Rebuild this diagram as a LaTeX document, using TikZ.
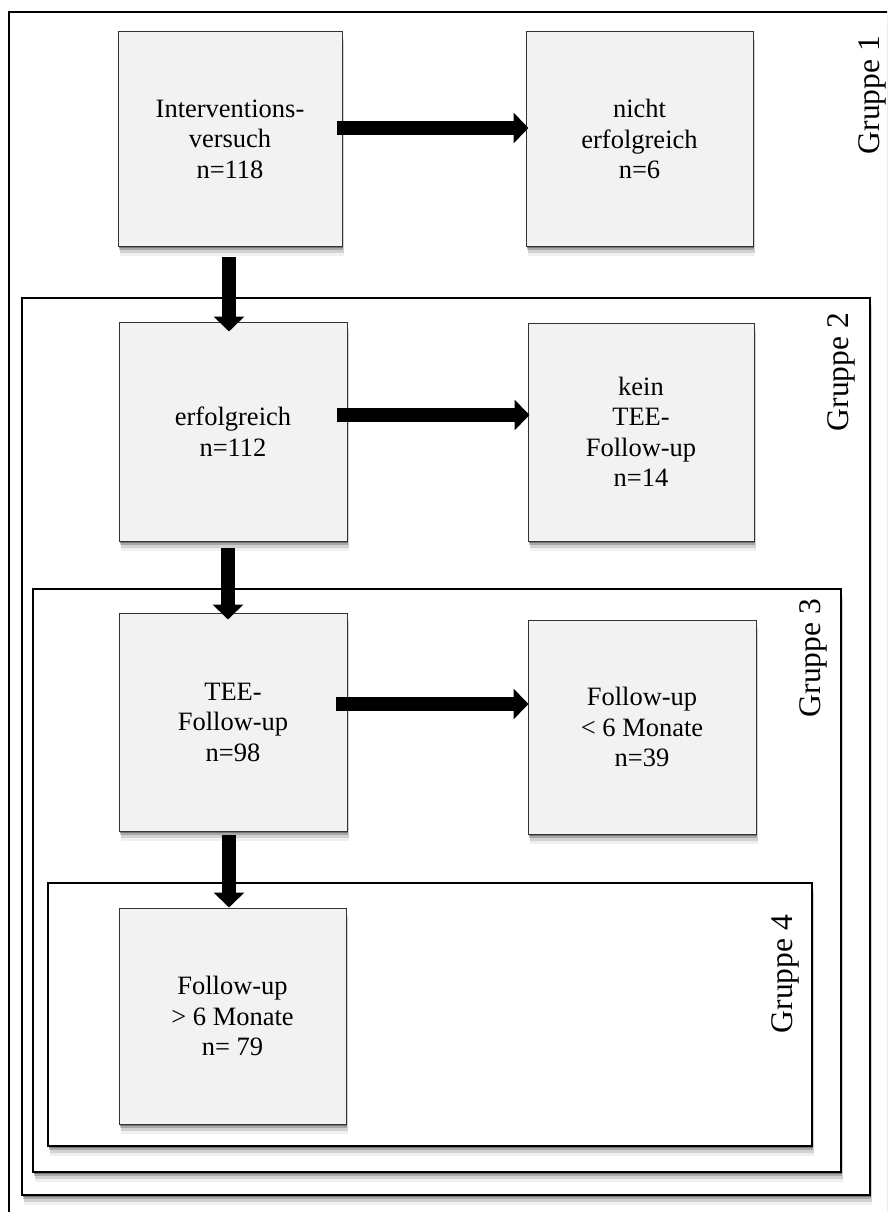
\documentclass[tikz,border=0pt]{standalone}
\usepackage{fontspec}
\setmainfont{Liberation Serif}
\usetikzlibrary{arrows.meta,shadows}
\definecolor{boxfill}{HTML}{F2F2F2}
\definecolor{boxline}{HTML}{333333}
\tikzset{
  softshadow/.style={
    drop shadow={shadow xshift=0.5pt,shadow yshift=-2pt,opacity=.30,fill=black},
    drop shadow={shadow xshift=1pt,shadow yshift=-4pt,opacity=.20,fill=black},
    drop shadow={shadow xshift=1.5pt,shadow yshift=-7pt,opacity=.12,fill=black},
    drop shadow={shadow xshift=2pt,shadow yshift=-10pt,opacity=.06,fill=black}},
  stepbox/.style={draw=boxline,line width=1pt,fill=boxfill,softshadow,inner sep=0pt,
    align=center,font=\fontsize{26.5}{30.5}\selectfont},
  frame/.style={draw=black,line width=2.2pt,fill=white,softshadow},
  grouplabel/.style={rotate=90,inner sep=0pt,font=\fontsize{31.5}{34}\selectfont},
  bigarrow/.style={line width=14pt,line cap=butt,-{Triangle[length=15pt,width=30pt]}}
}
\begin{document}
\begin{tikzpicture}[x=1pt,y=-1pt]
\useasboundingbox (0,0) rectangle (887,1212);
\clip (0,0) rectangle (887,1212);
\fill[white] (0,0) rectangle (887,1212);
% group frames
\draw[frame] (9,12) rectangle (905,1230);
\draw[frame] (22,298) rectangle (870,1195);
\draw[frame] (33,589) rectangle (841,1172);
\draw[frame] (48,883) rectangle (812,1146);
% group labels
\node[grouplabel] (g1) at (872,95) {Gruppe 1};
\node[grouplabel] (g2) at (841,372) {Gruppe 2};
\node[grouplabel] (g3) at (813,658) {Gruppe 3};
\node[grouplabel] (g4) at (785,974) {Gruppe 4};
% boxes
\node[stepbox,minimum width=224pt,minimum height=214pt] (b1) at (230,139) {Interventions-\\versuch\\n=118};
\node[stepbox,minimum width=227pt,minimum height=214pt] (b2) at (639.5,139) {nicht\\erfolgreich\\n=6};
\node[stepbox,minimum width=228pt,minimum height=219pt] (b3) at (233,431.5) {erfolgreich\\n=112};
\node[stepbox,minimum width=226pt,minimum height=218pt] (b4) at (641,432) {kein\\TEE-\\Follow-up\\n=14};
\node[stepbox,minimum width=228pt,minimum height=218pt] (b5) at (233,722) {TEE-\\Follow-up\\n=98};
\node[stepbox,minimum width=228pt,minimum height=214pt] (b6) at (642,727) {Follow-up\\< 6 Monate\\n=39};
\node[stepbox,minimum width=227pt,minimum height=216pt] (b7) at (232.5,1016) {Follow-up\\> 6 Monate\\n= 79};
% arrows
\draw[bigarrow] ([xshift=-6pt,yshift=11pt]b1.east) coordinate (h1) -- ([xshift=3pt]h1 -| b2.west);
\draw[bigarrow] ([xshift=-11pt,yshift=16.5pt]b3.east) coordinate (h2) -- ([xshift=2pt]h2 -| b4.west);
\draw[bigarrow] ([xshift=-12pt,yshift=18pt]b5.east) coordinate (h3) -- ([xshift=1pt]h3 -| b6.west);
\draw[bigarrow] ([xshift=-1pt,yshift=-10pt]b1.south) coordinate (v1) -- ([yshift=-10pt]v1 |- b3.north);
\draw[bigarrow] ([xshift=-5pt,yshift=-6pt]b3.south) coordinate (v2) -- ([yshift=-7pt]v2 |- b5.north);
\draw[bigarrow] ([xshift=-4pt,yshift=-3pt]b5.south) coordinate (v3) -- (v3 |- b7.north);
\end{tikzpicture}
\end{document}
